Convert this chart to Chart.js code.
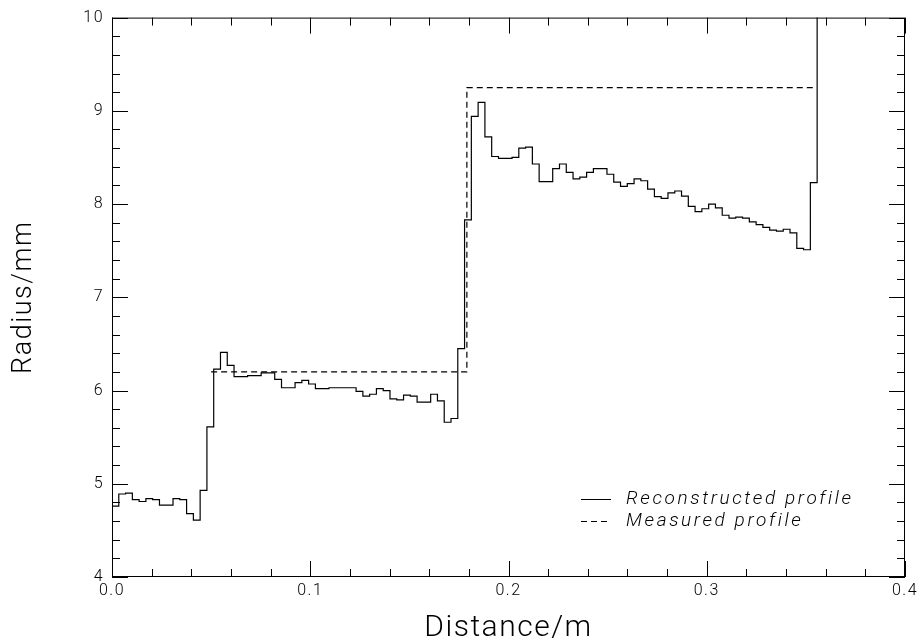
<!DOCTYPE html>
<html>
<head>
<meta charset="utf-8">
<script src="https://cdn.jsdelivr.net/npm/chart.js@4.4.0/dist/chart.umd.min.js"></script>
<style>
  html, body { margin: 0; padding: 0; background: #fff; }
  #wrap { width: 922px; height: 643px; }
</style>
</head>
<body>
<div id="wrap"><canvas id="profile" width="922" height="643"></canvas></div>
<script>
// reconstructed radius per bin (mm), bins of equal width starting at 0 m
const binWidth = 0.00342
const radius = [
  4.69, 4.76, 4.89, 4.90, 4.83, 4.81, 4.84, 4.83, 4.77, 4.77,
  4.84, 4.83, 4.68, 4.61, 4.93, 5.61, 6.23, 6.41, 6.27, 6.15,
  6.15, 6.16, 6.16, 6.19, 6.19, 6.12, 6.03, 6.03, 6.085, 6.11,
  6.07, 6.02, 6.02, 6.03, 6.03, 6.03, 6.03, 5.99, 5.94, 5.96,
  6.02, 6.00, 5.91, 5.90, 5.95, 5.94, 5.875, 5.875, 5.96, 5.89,
  5.66, 5.70, 6.45, 7.83, 8.94, 9.09, 8.72, 8.51, 8.49, 8.49,
  8.50, 8.60, 8.61, 8.43, 8.24, 8.24, 8.38, 8.43, 8.34, 8.27,
  8.29, 8.34, 8.38, 8.38, 8.32, 8.235, 8.19, 8.22, 8.27, 8.25,
  8.16, 8.08, 8.06, 8.12, 8.14, 8.085, 7.975, 7.92, 7.95, 8.00,
  7.96, 7.88, 7.85, 7.86, 7.85, 7.81, 7.78, 7.75, 7.72, 7.71,
  7.73, 7.69, 7.525, 7.51, 8.23,
  10.6 // off the top of the plot
]

// measured profile corners
const measuredX = [0.05, 0.179, 0.179, 0.355]
const measuredY = [6.2, 6.2, 9.25, 9.25]

const xTicks = [0, 0.1, 0.2, 0.3, 0.4]
const yTicks = [4, 5, 6, 7, 8, 9, 10]
const xMinorStep = 0.02
const yMinorStep = 0.2

const legendLabels = ['Reconstructed profile', 'Measured profile']

const labelFont = { family: 'Roboto', weight: 300, size: 16 }
const titleFont = { family: 'Roboto', weight: 300, size: 30, lineHeight: 1 }

// wide, thin lettering like the plotting package font
const spacing = {
  id: 'spacing',
  beforeDraw(chart) { chart.ctx.letterSpacing = '1.5px' }
}

// box + inward ticks on all four sides, and the legend
const frame = {
  id: 'frame',
  afterDraw(chart) {
    const { ctx, chartArea: a, scales } = chart
    const xs = scales.x, ys = scales.y
    ctx.save()
    ctx.strokeStyle = '#000'
    ctx.lineWidth = 1
    ctx.strokeRect(a.left + 0.5, a.top + 0.5, a.right - a.left - 1, a.bottom - a.top - 1)
    ctx.beginPath()
    const nx = Math.round(0.4 / xMinorStep)
    for (let i = 0; i <= nx; i++) {
      const v = i * xMinorStep
      const len = i % 5 === 0 ? 16 : 8
      const px = Math.round(xs.getPixelForValue(v)) + 0.5
      ctx.moveTo(px, a.bottom); ctx.lineTo(px, a.bottom - len)
      ctx.moveTo(px, a.top); ctx.lineTo(px, a.top + len)
    }
    const ny = Math.round(6 / yMinorStep)
    for (let i = 0; i <= ny; i++) {
      const v = 4 + i * yMinorStep
      const len = i % 5 === 0 ? 16 : 8
      const py = Math.round(ys.getPixelForValue(v)) + 0.5
      ctx.moveTo(a.left, py); ctx.lineTo(a.left + len, py)
      ctx.moveTo(a.right, py); ctx.lineTo(a.right - len, py)
    }
    ctx.stroke()

    // legend
    const lx = a.right - 324, tx = a.right - 279
    const rows = [a.bottom - 78, a.bottom - 56]
    ctx.font = 'italic 300 19px Roboto'
    ctx.letterSpacing = '2.6px'
    ctx.fillStyle = '#000'
    ctx.textBaseline = 'middle'
    rows.forEach((y, i) => {
      ctx.beginPath()
      ctx.setLineDash(i === 0 ? [] : [6, 4])
      ctx.moveTo(lx, y + 0.5); ctx.lineTo(lx + 30, y + 0.5)
      ctx.stroke()
      ctx.fillText(legendLabels[i], tx, y)
    })
    ctx.restore()
  }
}

const ctx = document.getElementById('profile')
new Chart(ctx, {
  type: 'scatter',
  data: {
    datasets: [
      {
        label: legendLabels[0],
        data: radius.map((r, i) => ({ x: i * binWidth, y: r })),
        showLine: true,
        stepped: 'after',
        borderColor: '#000',
        borderWidth: 1.2,
        pointRadius: 0
      },
      {
        label: legendLabels[1],
        data: measuredX.map((x, i) => ({ x: x, y: measuredY[i] })),
        showLine: true,
        borderColor: '#000',
        borderWidth: 1.2,
        borderDash: [6, 4],
        pointRadius: 0
      }
    ]
  },
  options: {
    responsive: false,
    animation: false,
    devicePixelRatio: 1,
    layout: { padding: { left: 0, top: 17, right: 17, bottom: 0 } },
    plugins: { legend: { display: false }, tooltip: { enabled: false } },
    scales: {
      x: {
        type: 'linear',
        min: 0,
        max: 0.4,
        afterFit: s => { s.height = 66 },
        afterBuildTicks: s => { s.ticks = xTicks.map(v => ({ value: v })) },
        grid: { display: false, drawTicks: false },
        border: { display: false },
        ticks: {
          color: '#000',
          font: labelFont,
          padding: 4,
          maxRotation: 0,
          autoSkip: false,
          callback: v => v.toFixed(1)
        },
        title: {
          display: true,
          text: 'Distance/m',
          color: '#000',
          font: titleFont,
          padding: { top: 0, bottom: 0 }
        }
      },
      y: {
        type: 'linear',
        min: 4,
        max: 10,
        afterFit: s => { s.width = 112 },
        afterBuildTicks: s => { s.ticks = yTicks.map(v => ({ value: v })) },
        grid: { display: false, drawTicks: false },
        border: { display: false },
        ticks: {
          color: '#000',
          font: labelFont,
          padding: 8,
          autoSkip: false
        },
        title: {
          display: true,
          text: 'Radius/mm',
          color: '#000',
          font: { family: 'Roboto', weight: 300, size: 27, lineHeight: 1 },
          padding: { top: 11, bottom: 0 }
        }
      }
    }
  },
  plugins: [spacing, frame]
})
</script>
</body>
</html>
